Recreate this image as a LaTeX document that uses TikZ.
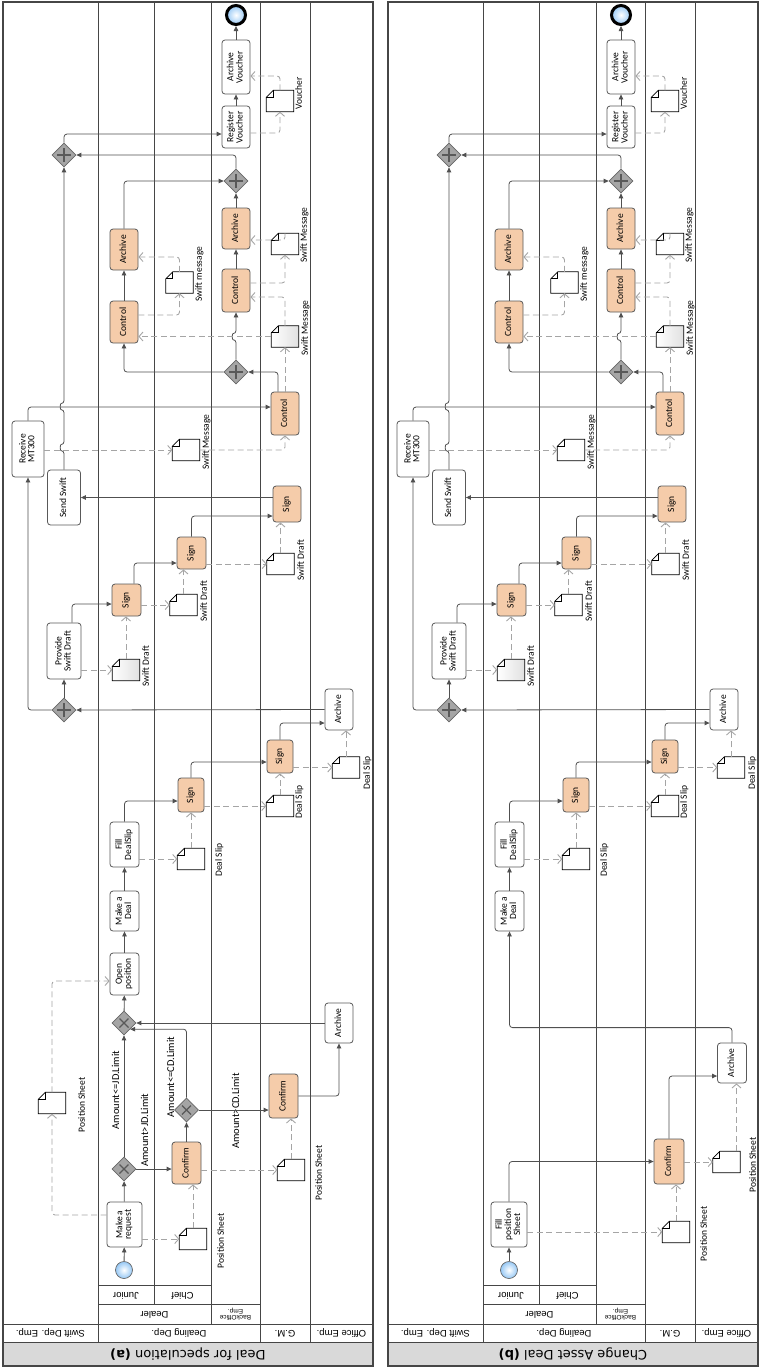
\documentclass[tikz,border=0pt]{standalone}
\usepackage{fontspec}
\usepackage{graphicx}
\usetikzlibrary{shapes.geometric, arrows.meta}
\setmainfont{Carlito}
\newfontfamily\hdfont{Liberation Sans}
\newfontfamily\ttlfont{DejaVu Sans}
\definecolor{lanegray}{RGB}{70,70,70}
\definecolor{flowgray}{RGB}{80,80,80}
\definecolor{assocgray}{RGB}{165,165,165}
\definecolor{taskorange}{RGB}{245,204,170}
\definecolor{gwgray}{RGB}{165,165,165}
\definecolor{evblue}{RGB}{150,200,245}
\definecolor{titlegray}{RGB}{217,217,217}
\newcommand{\vtxt}[1]{\rotatebox{90}{\def\arraystretch{0.8}\begin{tabular}{@{}c@{}}#1\end{tabular}}}
\newcommand{\utxt}[1]{\rotatebox{180}{\def\arraystretch{0.75}\begin{tabular}{@{}c@{}}#1\end{tabular}}}

\begin{document}
\begin{tikzpicture}[x=1pt, y=-1pt,
    task/.style={rectangle, rounded corners=3pt, draw=black!65, fill=white, line width=0.8pt, inner sep=0pt, font=\fontsize{9.5}{10.5}\selectfont},
    otask/.style={task, fill=taskorange},
    gwx/.style={diamond, draw=black!60, fill=gwgray, minimum width=24pt, minimum height=24pt, inner sep=0pt, line width=0.7pt,
        path picture={\draw[black!65, line width=1.2pt] ([shift={(-4.5pt,-4.5pt)}]path picture bounding box.center) -- ([shift={(4.5pt,4.5pt)}]path picture bounding box.center) ([shift={(-4.5pt,4.5pt)}]path picture bounding box.center) -- ([shift={(4.5pt,-4.5pt)}]path picture bounding box.center);}},
    gwp/.style={diamond, draw=black!60, fill=gwgray, minimum width=24pt, minimum height=24pt, inner sep=0pt, line width=0.7pt,
        path picture={\draw[black!65, line width=1.1pt] ([xshift=-7pt]path picture bounding box.center) -- ([xshift=7pt]path picture bounding box.center) ([yshift=-7pt]path picture bounding box.center) -- ([yshift=7pt]path picture bounding box.center);}},
    startev/.style={circle, draw=black!60, inner color=white, outer color=evblue, minimum size=17pt, inner sep=0pt, line width=0.7pt},
    endev/.style={circle, draw=black, line width=3pt, inner color=white, outer color=evblue, minimum size=19pt, inner sep=0pt},
    doc/.style={rectangle, minimum width=27pt, minimum height=21pt, inner sep=0pt,
        append after command={\pgfextra{
            \draw[black, line width=0.8pt, #1] (\tikzlastnode.south west) -- (\tikzlastnode.south east) -- (\tikzlastnode.north east)
                -- ([xshift=7pt]\tikzlastnode.north west) -- ([yshift=-7pt]\tikzlastnode.north west) -- cycle;
            \draw[black, line width=0.8pt] ([xshift=7pt]\tikzlastnode.north west) -- ([xshift=7pt, yshift=-7pt]\tikzlastnode.north west) -- ([yshift=-7pt]\tikzlastnode.north west);
        }}},
    doc/.default={fill=white},
    dlabel/.style={inner sep=0pt, font=\fontsize{9.5}{11}\selectfont},
    glabel/.style={inner sep=0pt, font=\fontsize{10.5}{12}\selectfont},
    head/.style={inner sep=0pt, font=\hdfont\fontsize{9.5}{10.5}\selectfont},
    lane/.style={draw=lanegray, line width=1pt},
    flow/.style={draw=flowgray, line width=0.8pt, rounded corners=3pt, -{Triangle[length=5pt, width=4.5pt]}},
    assoc/.style={draw=assocgray, line width=0.9pt, rounded corners=3pt, dash pattern=on 6pt off 3.5pt, -{Straight Barb[length=4pt, width=9pt]}}
]
    \useasboundingbox (0,0) rectangle (763,1369);

    \foreach \p/\dx/\ttl in {a/0/Deal for speculation, b/385/Change Asset Deal} {
    \begin{scope}[xshift=\dx pt]
        \fill[titlegray] (3,1342) rectangle (373,1366);
        \draw[lane] (3,1342) -- (373,1342) (3,1324) -- (373,1324) (98,1304) -- (260,1304) (98,1285) -- (211,1285);
        \draw[lane] (98,2) -- (98,1342) (154,2) -- (154,1304) (211,2) -- (211,1324) (260,2) -- (260,1342) (310,2) -- (310,1342);
        \draw[lane, line width=1.3pt] (3,2) rectangle (373,1366);

        \node[head, font=\ttlfont\fontsize{13}{14}\selectfont] (\p-title) at (188,1354) {\utxt{\ttl\ \textbf{(\p)}}};
        \node[head] (\p-hswift) at (50.5,1333) {\utxt{Swift Dep. Emp.}};
        \node[head] (\p-hdeal) at (179,1333) {\utxt{Dealing Dep.}};
        \node[head] (\p-hgm) at (285,1333) {\utxt{G.M.}};
        \node[head] (\p-hoff) at (341.5,1333) {\utxt{Office Emp.}};
        \node[head] (\p-hdealer) at (154.5,1314) {\utxt{Dealer}};
        \node[head, font=\hdfont\fontsize{6.5}{7}\selectfont] (\p-hbo) at (235.5,1314) {\utxt{BackOffice\\Emp.}};
        \node[head] (\p-hjun) at (126,1294.5) {\utxt{Junior}};
        \node[head] (\p-hchief) at (182.5,1294.5) {\utxt{Chief}};

        \node[task, minimum width=29pt, minimum height=40pt] (\p-mkdeal) at (124.5,911) {\vtxt{Make a\\Deal}};
        \node[task, minimum width=29pt, minimum height=45pt] (\p-fill) at (124.5,844.5) {\vtxt{Fill\\DealSlip}};
        \node[otask, minimum width=26pt, minimum height=34pt] (\p-sign1) at (191,795) {\vtxt{Sign}};
        \node[otask, minimum width=26pt, minimum height=33pt] (\p-sign2) at (280,756.5) {\vtxt{Sign}};
        \node[task, minimum width=28pt, minimum height=41pt] (\p-arch2) at (339,709.5) {\vtxt{Archive}};
        \node[gwp] (\p-gp1) at (64,710) {};
        \node[task, minimum width=34pt, minimum height=56pt] (\p-prov) at (64,651) {\vtxt{Provide\\Swift Draft}};
        \node[otask, minimum width=29pt, minimum height=32pt] (\p-sign3) at (126.5,600) {\vtxt{Sign}};
        \node[otask, minimum width=29pt, minimum height=32pt] (\p-sign4) at (191.5,553) {\vtxt{Sign}};
        \node[otask, minimum width=28pt, minimum height=36pt] (\p-sign5) at (287,504) {\vtxt{Sign}};
        \node[task, minimum width=33pt, minimum height=55pt] (\p-send) at (64,497.5) {\vtxt{Send Swift}};
        \node[task, minimum width=32pt, minimum height=56pt] (\p-recv) at (28,449) {\vtxt{Receive\\MT300}};
        \node[otask, minimum width=28pt, minimum height=43pt] (\p-ctl1) at (285,413.5) {\vtxt{Control}};
        \node[gwp] (\p-gp2) at (236,372) {};
        \node[otask, minimum width=28pt, minimum height=42pt] (\p-ctl2) at (124,322) {\vtxt{Control}};
        \node[otask, minimum width=28pt, minimum height=43pt] (\p-ctl3) at (236,290.5) {\vtxt{Control}};
        \node[otask, minimum width=28pt, minimum height=41pt] (\p-arch3) at (124,249.5) {\vtxt{Archive}};
        \node[otask, minimum width=28pt, minimum height=41pt] (\p-arch4) at (236,228.5) {\vtxt{Archive}};
        \node[gwp] (\p-gp3) at (236,181) {};
        \node[gwp] (\p-gp4) at (64,155) {};
        \node[task, minimum width=28pt, minimum height=42pt] (\p-reg) at (236,127) {\vtxt{Register\\Voucher}};
        \node[task, minimum width=28pt, minimum height=54pt] (\p-av) at (236,67) {\vtxt{Archive\\Voucher}};
        \node[endev] (\p-end) at (236,15) {};

        \node[doc] (\p-ds1) at (191,859) {};
        \node[doc] (\p-ds2) at (280,806) {};
        \node[doc] (\p-ds3) at (346,767.5) {};
        \node[doc={left color=white, right color=black!12}] (\p-sd1) at (126,670) {};
        \node[doc] (\p-sd2) at (183.5,605) {};
        \node[doc] (\p-sd3) at (280.5,564) {};
        \node[doc] (\p-sm1) at (186,450) {};
        \node[doc={left color=white, right color=black!12}] (\p-sm2) at (285,336.5) {};
        \node[doc] (\p-smj) at (179.5,282.5) {};
        \node[doc] (\p-sm3) at (285,244) {};
        \node[doc] (\p-vou) at (280,101) {};

        \node[dlabel] (\p-ds1l) at (220,860) {\vtxt{Deal Slip}};
        \node[dlabel] (\p-ds2l) at (300,802) {\vtxt{Deal Slip}};
        \node[dlabel] (\p-ds3l) at (368,773) {\vtxt{Deal Slip}};
        \node[dlabel] (\p-sd1l) at (147,666) {\vtxt{Swift Draft}};
        \node[dlabel] (\p-sd2l) at (205,601) {\vtxt{Swift Draft}};
        \node[dlabel] (\p-sd3l) at (302,560) {\vtxt{Swift Draft}};
        \node[dlabel] (\p-sm1l) at (207,442) {\vtxt{Swift Message}};
        \node[dlabel] (\p-sm2l) at (306,328) {\vtxt{Swift Message}};
        \node[dlabel] (\p-smjl) at (200,274) {\vtxt{Swift message}};
        \node[dlabel] (\p-sm3l) at (305,235) {\vtxt{Swift Message}};
        \node[dlabel] (\p-voul) at (300,93) {\vtxt{Voucher}};

        \draw[flow] (\p-mkdeal) -- (\p-fill);
        \draw[flow] (\p-fill.north) |- ([yshift=-6pt]\p-sign1.west);
        \draw[flow] (\p-sign1.north) |- ([yshift=-5.5pt]\p-sign2.west);
        \draw[flow] (\p-sign2.north) |- ([yshift=-13.5pt]\p-arch2.west);
        \draw[flow] (\p-arch2.west) -- (\p-gp1.east);
        \draw[flow] (\p-gp1.north) -- (\p-prov.south);
        \draw[flow] (\p-gp1.west) -| (\p-recv.south);
        \draw[flow] ([xshift=8pt]\p-prov.north) |- ([yshift=-4pt]\p-sign3.west);
        \draw[flow] ([xshift=7.5pt]\p-sign3.north) |- ([yshift=-10pt]\p-sign4.west);
        \draw[flow] (\p-sign4.north) |- ([yshift=-12pt]\p-sign5.west);
        \draw[flow] (\p-sign5.west |- \p-send.east) -- (\p-send.east);
        \draw[flow] (\p-send.north) -- ++(0,-19) .. controls +(-4,0) and +(-4,0) .. ++(0,-6) -- ++(0,-35) .. controls +(-4,0) and +(-4,0) .. ++(0,-6) -- (\p-gp4.south);
        \draw[flow] (\p-recv.north) |- ([yshift=6.5pt]\p-ctl1.west);
        \draw[flow] ([xshift=-7pt]\p-ctl1.north) |- (\p-gp2.east);
        \draw[flow] (\p-gp2.west) -| (\p-ctl2.south);
        \draw[flow] (\p-gp2.north) -- ++(0,-20) .. controls +(-4,0) and +(-4,0) .. ++(0,-6) -- (\p-ctl3.south);
        \draw[flow] (\p-ctl2) -- (\p-arch3);
        \draw[flow] (\p-ctl3) -- (\p-arch4);
        \draw[flow] (\p-arch4) -- (\p-gp3);
        \draw[flow] (\p-arch3.north) |- (\p-gp3.west);
        \draw[flow] (\p-gp3.north) |- (\p-gp4.east);
        \draw[flow] (\p-gp4.north) |- ([yshift=-7pt]\p-reg.west);
        \draw[flow] (\p-reg) -- (\p-av);
        \draw[flow] (\p-av) -- (\p-end);

        \draw[assoc] ([yshift=-14.5pt]\p-fill.east) -- (\p-ds1.west);
        \draw[assoc] (\p-ds1.north) -- (\p-ds1.north |- \p-sign1.south);
        \draw[assoc] (\p-sign1.east |- \p-ds2.west) -- (\p-ds2.west);
        \draw[assoc] (\p-ds2.north) -- (\p-ds2.north |- \p-sign2.south);
        \draw[assoc] (\p-sign2.east |- \p-ds3.west) -- (\p-ds3.west);
        \draw[assoc] (\p-ds3.north) -- (\p-ds3.north |- \p-arch2.south);
        \draw[assoc] (\p-prov.east |- \p-sd1.west) -- (\p-sd1.west);
        \draw[assoc] (\p-sd1.north) -- (\p-sd1.north |- \p-sign3.south);
        \draw[assoc] (\p-sign3.east |- \p-sd2.west) -- (\p-sd2.west);
        \draw[assoc] (\p-sd2.north) -- (\p-sd2.north |- \p-sign4.south);
        \draw[assoc] (\p-sign4.east |- \p-sd3.west) -- (\p-sd3.west);
        \draw[assoc] (\p-sd3.north) -- (\p-sd3.north |- \p-sign5.south);
        \draw[assoc] (\p-recv.east |- \p-sm1.west) -- (\p-sm1.west);
        \draw[assoc] (\p-sm1.east) -| (\p-ctl1.south);
        \draw[assoc] (\p-ctl1.north) -- (\p-sm2.south);
        \draw[assoc] (\p-sm2.west) -- (\p-sm2.west -| \p-ctl2.east);
        \draw[assoc] (\p-sm2.north) |- ([yshift=-6.5pt]\p-ctl3.east);
        \draw[assoc] ([yshift=7pt]\p-ctl2.east) -| (\p-smj.south);
        \draw[assoc] (\p-smj.north) |- ([yshift=-7.5pt]\p-arch3.east);
        \draw[assoc] ([yshift=7.5pt]\p-ctl3.east) -| (\p-sm3.south);
        \draw[assoc] (\p-sm3.north) |- ([yshift=-11.5pt]\p-arch4.east);
        \draw[assoc] ([yshift=-6pt]\p-reg.east) -| (\p-vou.south);
        \draw[assoc] (\p-vou.north) |- ([yshift=-9pt]\p-av.east);
    \end{scope}
    }

    \node[startev] (a-start) at (124,1270) {};
    \node[task, minimum width=35pt, minimum height=45pt] (a-req) at (124.5,1224.5) {\vtxt{Make a\\request}};
    \node[gwx] (a-gx1) at (124,1169) {};
    \node[otask, minimum width=29pt, minimum height=42pt] (a-conf1) at (186.5,1163) {\vtxt{Confirm}};
    \node[gwx] (a-gx2) at (186.5,1110) {};
    \node[otask, minimum width=29pt, minimum height=44pt] (a-conf2) at (283.5,1096) {\vtxt{Confirm}};
    \node[task, minimum width=28pt, minimum height=40pt] (a-arch1) at (339,1023) {\vtxt{Archive}};
    \node[gwx] (a-gx3) at (124,1023) {};
    \node[task, minimum width=29pt, minimum height=42pt] (a-open) at (124.5,974) {\vtxt{Open\\position}};
    \node[doc] (a-ps1) at (193,1239) {};
    \node[doc] (a-ps2) at (52,1103) {};
    \node[doc] (a-ps3) at (291,1170) {};
    \node[dlabel] (a-ps1l) at (222,1241) {\vtxt{Position Sheet}};
    \node[dlabel] (a-ps2l) at (83,1105) {\vtxt{Position Sheet}};
    \node[dlabel] (a-ps3l) at (320,1173) {\vtxt{Position Sheet}};
    \node[glabel] (a-g1l) at (117,1090) {\vtxt{Amount<=JD.Limit}};
    \node[glabel] (a-g2l) at (146,1130) {\vtxt{Amount>JD.Limit}};
    \node[glabel] (a-g3l) at (172,1077) {\vtxt{Amount<=CD.Limit}};
    \node[glabel] (a-g4l) at (237,1111) {\vtxt{Amount>CD.Limit}};

    \draw[flow] (a-start) -- (a-req);
    \draw[flow] (a-req) -- (a-gx1);
    \draw[flow] (a-gx1.east) -- (a-gx1.east -| a-conf1.west);
    \draw[flow] (a-gx1.north) -- (a-gx3.south);
    \draw[flow] (a-conf1) -- (a-gx2);
    \draw[flow] (a-gx2.north) |- (a-gx3.south east);
    \draw[flow] (a-gx2.east) -- (a-gx2.east -| a-conf2.west);
    \draw[flow] (a-conf2.east) -| (a-arch1.south);
    \draw[flow] (a-arch1.west) -- (a-gx3.east);
    \draw[flow] (a-gx3) -- (a-open);
    \draw[flow] (a-open) -- (a-mkdeal);
    \draw[assoc] ([yshift=-14.5pt]a-req.east) -- (a-ps1.west);
    \draw[assoc] (a-ps1.north) -- (a-ps1.north |- a-conf1.south);
    \draw[assoc] ([yshift=9.5pt]a-req.west) -| (a-ps2.south);
    \draw[assoc] (a-ps2.north) |- ([yshift=-7pt]a-open.west);
    \draw[assoc] (a-conf1.east |- a-ps3.west) -- (a-ps3.west);
    \draw[assoc] (a-ps3.north) -- (a-ps3.north |- a-conf2.south);

    \node[startev] (b-start) at (509,1270) {};
    \node[task, minimum width=36pt, minimum height=45pt] (b-fill) at (509,1224.5) {\vtxt{Fill\\position\\Sheet}};
    \node[otask, minimum width=30pt, minimum height=45pt] (b-conf) at (669,1161.5) {\vtxt{Confirm}};
    \node[task, minimum width=29pt, minimum height=40pt] (b-arch1) at (732,1063) {\vtxt{Archive}};
    \node[doc] (b-ps1) at (676,1232) {};
    \node[doc] (b-ps2) at (726.5,1162) {};
    \coordinate (b-ps2t) at ([xshift=10pt]b-ps2.north);
    \node[dlabel] (b-ps1l) at (705,1234) {\vtxt{Position Sheet}};
    \node[dlabel] (b-ps2l) at (754,1165) {\vtxt{Position Sheet}};

    \draw[flow] (b-start) -- (b-fill);
    \draw[flow] (b-fill.north) |- (b-conf.west);
    \draw[flow] (b-conf.north) |- ([yshift=-13pt]b-arch1.west);
    \draw[flow] (b-arch1.north) -- ++(0,-15) -| (b-mkdeal.south);
    \draw[assoc] (b-fill.east |- b-ps1.west) -- (b-ps1.west);
    \draw[assoc] (b-ps1.north) -- (b-ps1.north |- b-conf.south);
    \draw[assoc] (b-conf.east |- b-ps2.west) -- (b-ps2.west);
    \draw[assoc] (b-ps2t) -- (b-ps2t |- b-arch1.south);
\end{tikzpicture}
\end{document}
